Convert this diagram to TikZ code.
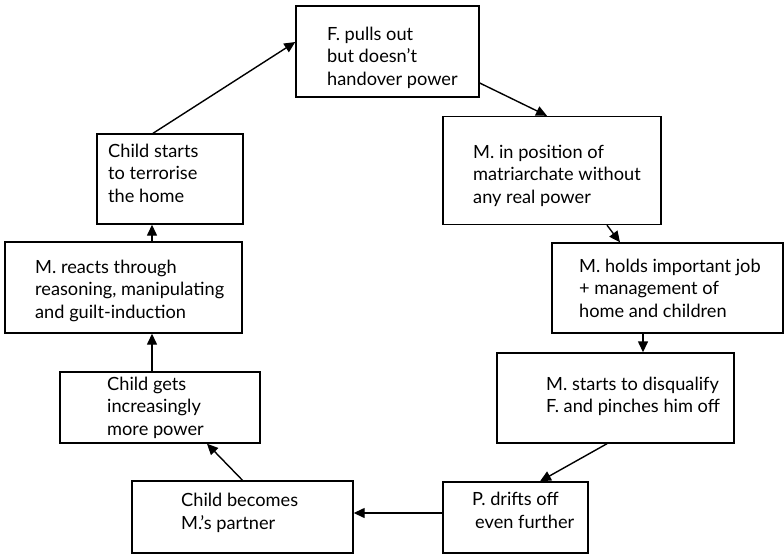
\documentclass[tikz,border=0pt]{standalone}
\usepackage{fontspec}
\setmainfont{Lato}
\usetikzlibrary{arrows.meta}

\begin{document}
\begin{tikzpicture}[x=1pt, y=-1pt, boxStyle/.style={rectangle, draw, line width=1.4pt, inner sep=0pt}, textStyle/.style={anchor=base west, align=left, inner sep=0pt, font=\fontsize{18.2}{22.5}\selectfont}, arrowStyle/.style={-{Triangle[length=11pt, width=10pt]}, line width=1.4pt}]
                    \useasboundingbox (0, 0) rectangle (784, 554);

                    \node[boxStyle, minimum width=183pt, minimum height=91pt] (f_out)    at (387.5,  51.5) {};
                    \node[boxStyle, minimum width=218pt, minimum height=108pt] (m_pos)   at (552,   170.5) {};
                    \node[boxStyle, minimum width=231pt, minimum height=90pt] (m_job)    at (667.5, 288) {};
                    \node[boxStyle, minimum width=237pt, minimum height=90pt] (m_disq)   at (615.5, 398) {};
                    \node[boxStyle, minimum width=145pt, minimum height=71pt] (p_drift)  at (515.5, 517.5) {};
                    \node[boxStyle, minimum width=221pt, minimum height=72pt] (c_partner) at (242.5, 517) {};
                    \node[boxStyle, minimum width=200pt, minimum height=71pt] (c_power)  at (160,   407.5) {};
                    \node[boxStyle, minimum width=237pt, minimum height=91pt] (m_react)  at (123.5, 287.5) {};
                    \node[boxStyle, minimum width=146pt, minimum height=90pt] (c_terror) at (170,   179) {};

                    % base anchor sits on the last line
                    \node[textStyle] (f_out_T)     at (327, 85)    {F. pulls out\\but doesn't\\handover power};
                    \node[textStyle] (m_pos_T)     at (473, 203)   {M. in position of\\matriarchate without\\any real power};
                    \node[textStyle] (m_job_T)     at (579, 317)   {M. holds important job\\+ management of\\home and children};
                    \node[textStyle] (m_disq_T)    at (546, 412.5) {M. starts to disqualify\\F. and pinches him off};
                    \node[textStyle] (p_drift_T)   at (472, 528)   {P. drifts off\\\hspace{3pt}even further};
                    \node[textStyle] (c_partner_T) at (181, 529)   {Child becomes\\M.'s partner};
                    \node[textStyle] (c_power_T)   at (107, 435)   {Child gets\\increasingly\\more power};
                    \node[textStyle] (m_react_T)   at (35,  318)   {M. reacts through\\reasoning, manipulating\\and guilt-induction};
                    \node[textStyle] (c_terror_T)  at (108, 202)   {Child starts\\to terrorise\\the home};

                    \draw[arrowStyle] ([xshift=-17pt]c_terror.north) -- ([yshift=9.5pt]f_out.west);
                    \draw[arrowStyle] ([yshift=-31.5pt]f_out.east) -- ([xshift=-5pt]m_pos.north);
                    \draw[arrowStyle] ([xshift=55pt]m_pos.south) -- ([xshift=-47.5pt]m_job.north);
                    \draw[arrowStyle] ([xshift=-24.5pt]m_job.south) -- ([xshift=27.5pt]m_disq.north);
                    \draw[arrowStyle] ([xshift=-8.5pt]m_disq.south) -- ([xshift=24.5pt]p_drift.north);
                    \draw[arrowStyle] ([yshift=4.5pt]p_drift.west) -- ([yshift=4pt]c_partner.east);
                    \draw[arrowStyle] (c_partner.north) -- ([xshift=47pt]c_power.south);
                    \draw[arrowStyle] ([xshift=-8pt]c_power.north) -- ([xshift=28.5pt]m_react.south);
                    \draw[arrowStyle] ([xshift=28.5pt]m_react.north) -- ([xshift=-18pt]c_terror.south);
                \end{tikzpicture}
\end{document}
